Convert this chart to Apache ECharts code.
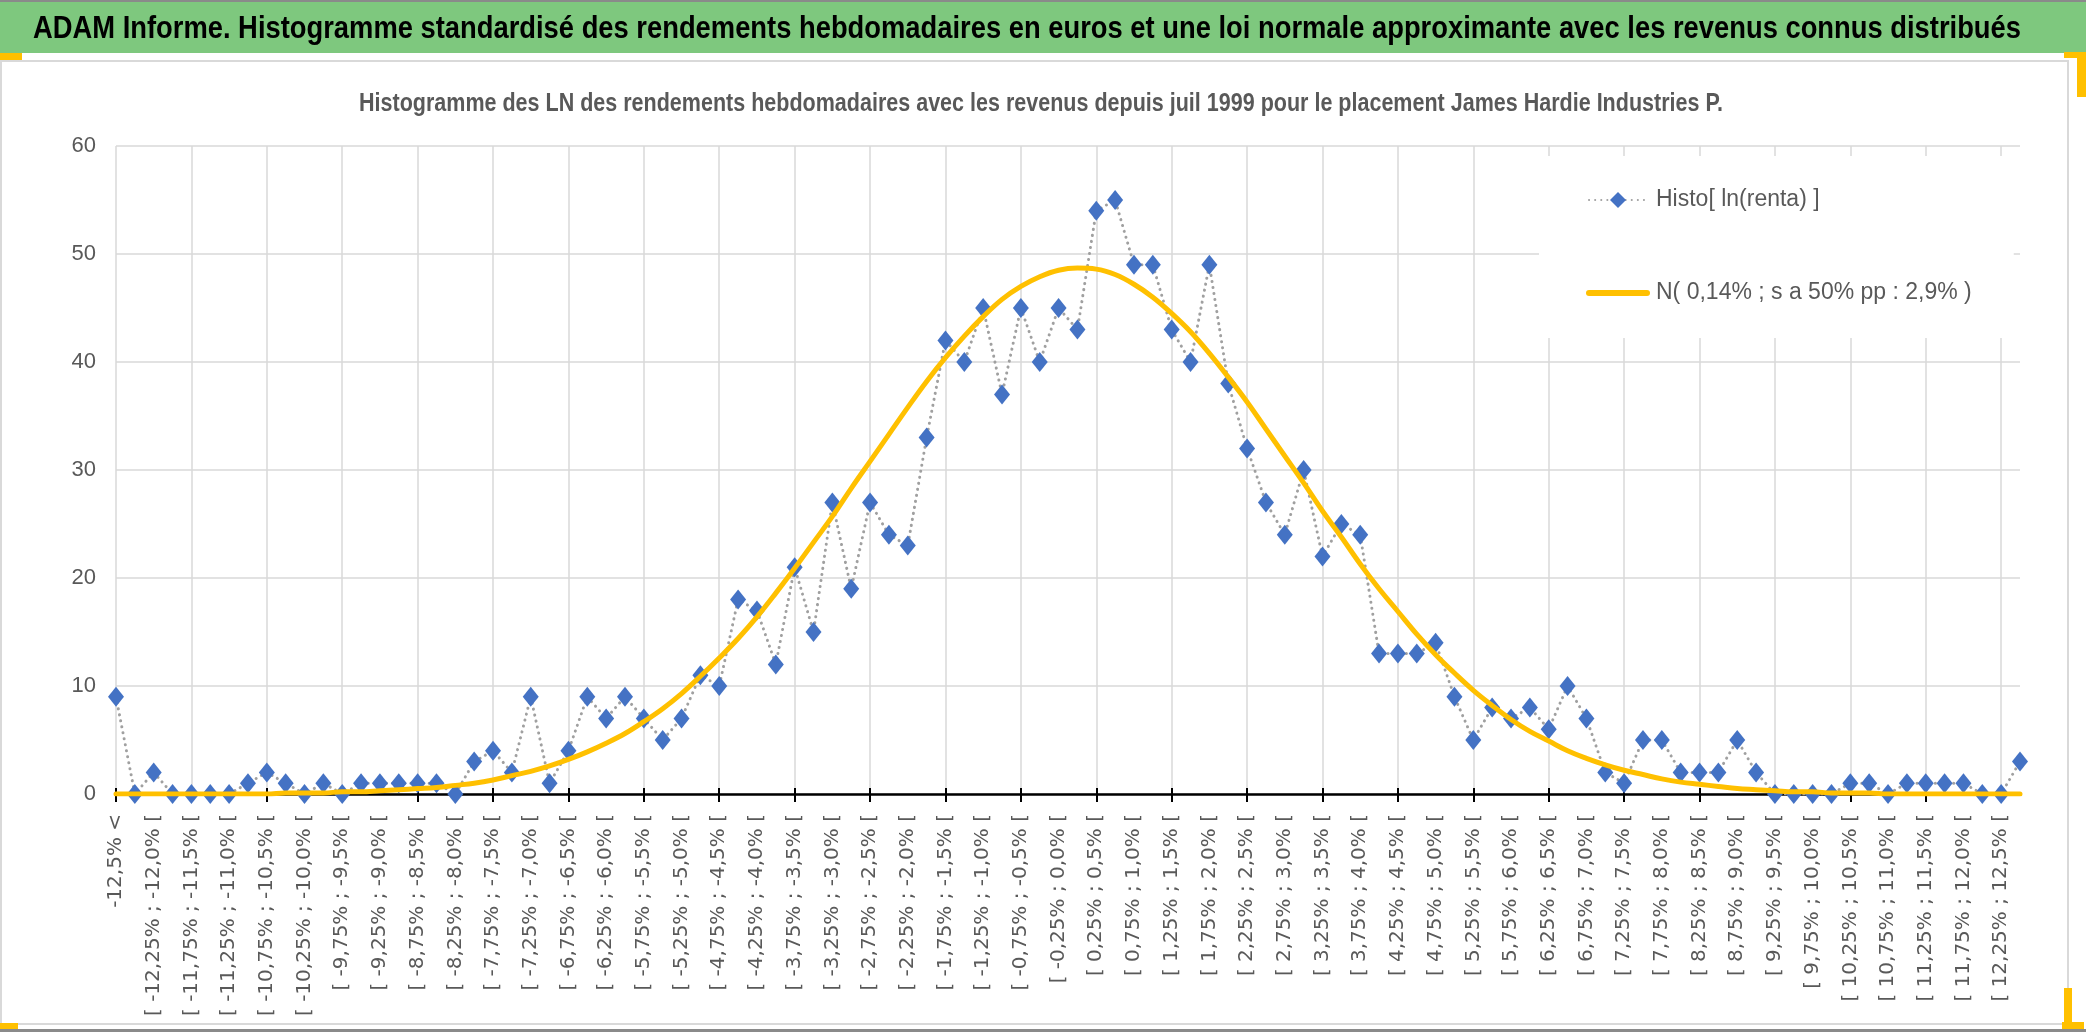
<!DOCTYPE html>
<html>
<head>
<meta charset="utf-8">
<script src="https://cdn.jsdelivr.net/npm/echarts@6/dist/echarts.min.js"></script>
<style>
html, body { margin: 0; padding: 0; background: #fff; }
#main { width: 2086px; height: 1032px; }
</style>
</head>
<body>
<div id="main"></div>
<script>
// classes of weekly log-returns (0,25% wide)
var binLabels = [
    '-12,5% <',
    '[ -12,5% ; -12,25% [', '[ -12,25% ; -12,0% [', '[ -12,0% ; -11,75% [', '[ -11,75% ; -11,5% [',
    '[ -11,5% ; -11,25% [', '[ -11,25% ; -11,0% [', '[ -11,0% ; -10,75% [', '[ -10,75% ; -10,5% [',
    '[ -10,5% ; -10,25% [', '[ -10,25% ; -10,0% [', '[ -10,0% ; -9,75% [', '[ -9,75% ; -9,5% [',
    '[ -9,5% ; -9,25% [', '[ -9,25% ; -9,0% [', '[ -9,0% ; -8,75% [', '[ -8,75% ; -8,5% [',
    '[ -8,5% ; -8,25% [', '[ -8,25% ; -8,0% [', '[ -8,0% ; -7,75% [', '[ -7,75% ; -7,5% [',
    '[ -7,5% ; -7,25% [', '[ -7,25% ; -7,0% [', '[ -7,0% ; -6,75% [', '[ -6,75% ; -6,5% [',
    '[ -6,5% ; -6,25% [', '[ -6,25% ; -6,0% [', '[ -6,0% ; -5,75% [', '[ -5,75% ; -5,5% [',
    '[ -5,5% ; -5,25% [', '[ -5,25% ; -5,0% [', '[ -5,0% ; -4,75% [', '[ -4,75% ; -4,5% [',
    '[ -4,5% ; -4,25% [', '[ -4,25% ; -4,0% [', '[ -4,0% ; -3,75% [', '[ -3,75% ; -3,5% [',
    '[ -3,5% ; -3,25% [', '[ -3,25% ; -3,0% [', '[ -3,0% ; -2,75% [', '[ -2,75% ; -2,5% [',
    '[ -2,5% ; -2,25% [', '[ -2,25% ; -2,0% [', '[ -2,0% ; -1,75% [', '[ -1,75% ; -1,5% [',
    '[ -1,5% ; -1,25% [', '[ -1,25% ; -1,0% [', '[ -1,0% ; -0,75% [', '[ -0,75% ; -0,5% [',
    '[ -0,5% ; -0,25% [', '[ -0,25% ; 0,0% [', '[ 0,0% ; 0,25% [', '[ 0,25% ; 0,5% [',
    '[ 0,5% ; 0,75% [', '[ 0,75% ; 1,0% [', '[ 1,0% ; 1,25% [', '[ 1,25% ; 1,5% [',
    '[ 1,5% ; 1,75% [', '[ 1,75% ; 2,0% [', '[ 2,0% ; 2,25% [', '[ 2,25% ; 2,5% [',
    '[ 2,5% ; 2,75% [', '[ 2,75% ; 3,0% [', '[ 3,0% ; 3,25% [', '[ 3,25% ; 3,5% [',
    '[ 3,5% ; 3,75% [', '[ 3,75% ; 4,0% [', '[ 4,0% ; 4,25% [', '[ 4,25% ; 4,5% [',
    '[ 4,5% ; 4,75% [', '[ 4,75% ; 5,0% [', '[ 5,0% ; 5,25% [', '[ 5,25% ; 5,5% [',
    '[ 5,5% ; 5,75% [', '[ 5,75% ; 6,0% [', '[ 6,0% ; 6,25% [', '[ 6,25% ; 6,5% [',
    '[ 6,5% ; 6,75% [', '[ 6,75% ; 7,0% [', '[ 7,0% ; 7,25% [', '[ 7,25% ; 7,5% [',
    '[ 7,5% ; 7,75% [', '[ 7,75% ; 8,0% [', '[ 8,0% ; 8,25% [', '[ 8,25% ; 8,5% [',
    '[ 8,5% ; 8,75% [', '[ 8,75% ; 9,0% [', '[ 9,0% ; 9,25% [', '[ 9,25% ; 9,5% [',
    '[ 9,5% ; 9,75% [', '[ 9,75% ; 10,0% [', '[ 10,0% ; 10,25% [', '[ 10,25% ; 10,5% [',
    '[ 10,5% ; 10,75% [', '[ 10,75% ; 11,0% [', '[ 11,0% ; 11,25% [', '[ 11,25% ; 11,5% [',
    '[ 11,5% ; 11,75% [', '[ 11,75% ; 12,0% [', '[ 12,0% ; 12,25% [', '[ 12,25% ; 12,5% [',
    '12,5% <='
];

// number of weeks per class
var histoCounts = [
    9, 0, 2, 0, 0, 0, 0, 1, 2, 1,
    0, 1, 0, 1, 1, 1, 1, 1, 0, 3,
    4, 2, 9, 1, 4, 9, 7, 9, 7, 5,
    7, 11, 10, 18, 17, 12, 21, 15, 27, 19,
    27, 24, 23, 33, 42, 40, 45, 37, 45, 40,
    45, 43, 54, 55, 49, 49, 43, 40, 49, 38,
    32, 27, 24, 30, 22, 25, 24, 13, 13, 13,
    14, 9, 5, 8, 7, 8, 6, 10, 7, 2,
    1, 5, 5, 2, 2, 2, 5, 2, 0, 0,
    0, 0, 1, 1, 0, 1, 1, 1, 1, 0,
    0, 3
];

// fitted normal curve
var normalFit = [
    0, 0, 0, 0, 0, 0, 0, 0, 0, 0.1,
    0.1, 0.1, 0.2, 0.2, 0.3, 0.4, 0.5, 0.6, 0.8, 1.0,
    1.3, 1.7, 2.1, 2.6, 3.2, 3.9, 4.7, 5.6, 6.7, 7.9,
    9.3, 10.9, 12.6, 14.4, 16.4, 18.6, 20.9, 23.3, 25.7, 28.3,
    30.8, 33.3, 35.8, 38.2, 40.4, 42.4, 44.2, 45.8, 47.0, 47.9,
    48.5, 48.7, 48.6, 48.1, 47.2, 46.0, 44.5, 42.8, 40.8, 38.6,
    36.3, 33.8, 31.3, 28.8, 26.2, 23.8, 21.3, 19.0, 16.9, 14.8,
    12.9, 11.2, 9.6, 8.2, 6.9, 5.8, 4.9, 4.0, 3.3, 2.7,
    2.2, 1.8, 1.4, 1.1, 0.9, 0.7, 0.5, 0.4, 0.3, 0.2,
    0.2, 0.1, 0.1, 0.1, 0, 0, 0, 0, 0, 0,
    0, 0
];

var yTicks = [0, 10, 20, 30, 40, 50, 60];

var seriesNames = ['Histo[ ln(renta) ]', 'N( 0,14% ; s a 50% pp : 2,9% )'];

var mainTitle = 'ADAM Informe. Histogramme standardisé des rendements hebdomadaires en euros et une loi normale approximante avec les revenus connus distribués';
var subTitle = 'Histogramme des LN des rendements hebdomadaires avec les revenus depuis juil 1999 pour le placement James Hardie Industries P.';

var SANS = "'Liberation Sans', Arial, sans-serif";
var GREY = '#595959';
var GRID = '#d9d9d9';

// the original texts are condensed: squeeze them to their width
function squeeze(txt, font, target) {
    var ctx = document.createElement('canvas').getContext('2d');
    ctx.font = font;
    var w = ctx.measureText(txt).width;
    return w > 0 ? Math.min(1, target / w) : 1;
}
var titleScale = squeeze(mainTitle, "bold 32px 'Liberation Sans'", 1988);
var subScale = squeeze(subTitle, "bold 25px 'Liberation Sans'", 1364);

var chart = echarts.init(document.getElementById('main'));

var opts = {
    backgroundColor: '#fff',
    animation: false,
    legend: {
        orient: 'vertical',
        left: 1539,
        top: 156,
        padding: [29, 42, 30, 47],
        backgroundColor: '#fff',
        itemGap: 63,
        itemWidth: 58,
        itemHeight: 20,
        data: [
            { name: seriesNames[0] },
            { name: seriesNames[1], itemStyle: { opacity: 0 }, lineStyle: { width: 6, color: '#FFC000' } }
        ],
        textStyle: { fontFamily: SANS, fontSize: 23, color: GREY, lineHeight: 30, padding: [0, 0, 0, 4] }
    },
    grid: {
        left: 116,
        right: 66,
        top: 146,
        bottom: 238
    },
    xAxis: [
        {
            type: 'category',
            data: binLabels,
            boundaryGap: false,
            position: 'bottom',
            axisLine: { lineStyle: { color: '#000', width: 2.5 } },
            axisTick: { interval: 3, length: 8, lineStyle: { color: '#000', width: 2 } },
            axisLabel: {
                interval: 1,
                rotate: 90,
                margin: 20,
                fontFamily: 'DejaVu Sans',
                fontSize: 20,
                color: GREY
            },
            splitLine: { show: true, interval: 3, lineStyle: { color: GRID, width: 1.5 } }
        },
        {
            // short inner half of the crossing ticks
            type: 'category',
            data: binLabels,
            boundaryGap: false,
            position: 'bottom',
            axisLine: { show: false },
            axisTick: { inside: true, interval: 3, length: 6, lineStyle: { color: '#000', width: 2 } },
            axisLabel: { show: false },
            splitLine: { show: false }
        }
    ],
    yAxis: {
        type: 'value',
        min: yTicks[0],
        max: yTicks[yTicks.length - 1],
        interval: yTicks[1] - yTicks[0],
        axisLine: { show: false },
        axisTick: { show: false },
        axisLabel: { margin: 20, fontFamily: SANS, fontSize: 22, color: GREY },
        splitLine: { lineStyle: { color: GRID, width: 1.5 } }
    },
    series: [
        {
            name: seriesNames[0],
            type: 'line',
            data: histoCounts,
            symbol: 'diamond',
            symbolSize: [16, 20],
            showAllSymbol: true,
            itemStyle: { color: '#4472C4' },
            lineStyle: { color: '#a0a0a0', width: 3, type: [0.1, 6], cap: 'round' },
            z: 2
        },
        {
            name: seriesNames[1],
            type: 'line',
            data: normalFit,
            smooth: 0.4,
            showSymbol: false,
            symbol: 'none',
            itemStyle: { color: '#FFC000' },
            lineStyle: { color: '#FFC000', width: 5, cap: 'round' },
            z: 3
        }
    ],
    graphic: [
        { type: 'rect', z: -10, shape: { x: 0, y: 0, width: 2086, height: 53 }, style: { fill: '#7ec87e' } },
        { type: 'rect', z: -9, shape: { x: 0, y: 0, width: 2086, height: 2 }, style: { fill: '#8a8a8a' } },
        { type: 'rect', z: -9, shape: { x: 1, y: 61, width: 2067, height: 963 }, style: { fill: 'none', stroke: GRID, lineWidth: 2 } },
        { type: 'rect', z: -9, shape: { x: 0, y: 1029, width: 2086, height: 3 }, style: { fill: '#8a8a8a' } },
        // selection handles
        { type: 'rect', z: -8, shape: { x: 0, y: 53, width: 22, height: 7 }, style: { fill: '#FFC000' } },
        { type: 'rect', z: -8, shape: { x: 2064, y: 52, width: 22, height: 6 }, style: { fill: '#FFC000' } },
        { type: 'rect', z: -8, shape: { x: 2077, y: 52, width: 9, height: 45 }, style: { fill: '#FFC000' } },
        { type: 'rect', z: -8, shape: { x: 0, y: 1023, width: 18, height: 6 }, style: { fill: '#FFC000' } },
        { type: 'rect', z: -8, shape: { x: 2064, y: 988, width: 8, height: 40 }, style: { fill: '#FFC000' } },
        { type: 'rect', z: -8, shape: { x: 2062, y: 1022, width: 22, height: 7 }, style: { fill: '#FFC000' } },
        // titles
        {
            type: 'text', z: 10, x: 33, y: 29, scaleX: titleScale,
            style: { text: mainTitle, fontFamily: 'Liberation Sans', fontSize: 32, fontWeight: 'bold', fill: '#000', align: 'left', verticalAlign: 'middle' }
        },
        {
            type: 'text', z: 10, x: 1041, y: 104, scaleX: subScale,
            style: { text: subTitle, fontFamily: 'Liberation Sans', fontSize: 25, fontWeight: 'bold', fill: GREY, align: 'center', verticalAlign: 'middle' }
        }
    ]
};

chart.setOption(opts);
</script>
</body>
</html>
